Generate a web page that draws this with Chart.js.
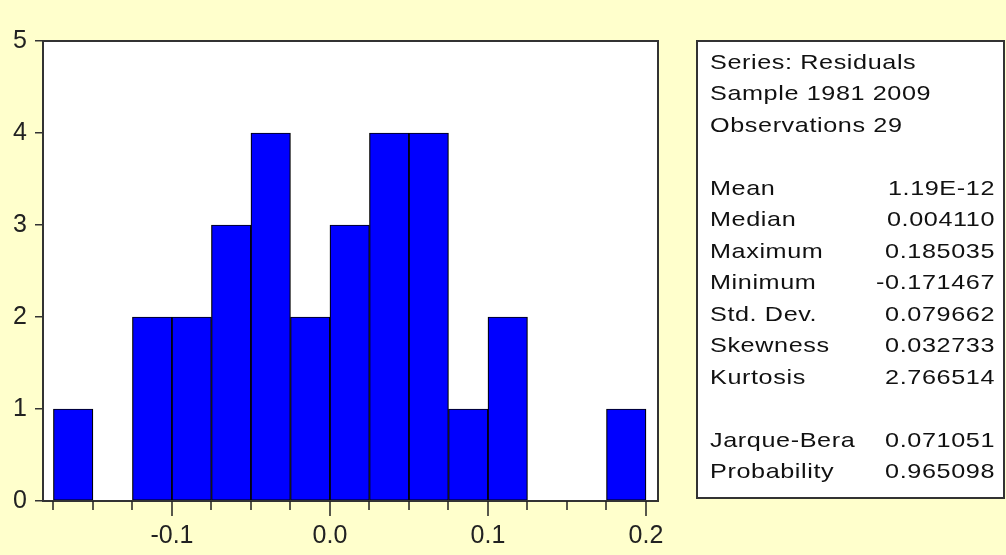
<!DOCTYPE html>
<html>
<head>
<meta charset="utf-8">
<script src="https://cdn.jsdelivr.net/npm/chart.js@4"></script>
<style>
html, body { margin: 0; padding: 0; background: #FFFFCC; }
#wrap { width: 1006px; height: 555px; }
</style>
</head>
<body>
<div id="wrap"><canvas id="histChart"></canvas></div>
<script>
// histogram of residuals, bins of 0.025
var binCenters = [-0.1625, -0.1375, -0.1125, -0.0875, -0.0625, -0.0375, -0.0125, 0.0125, 0.0375, 0.0625, 0.0875, 0.1125, 0.1375, 0.1625, 0.1875];
var binCounts = [1, 0, 2, 2, 3, 4, 2, 3, 4, 4, 1, 2, 0, 0, 1];

var xTickMarks = [-0.175, -0.15, -0.125, -0.1, -0.075, -0.05, -0.025, 0.0, 0.025, 0.05, 0.075, 0.1, 0.125, 0.15, 0.175, 0.2];
var xLabelTicks = [-0.1, 0.0, 0.1, 0.2];
var yTicks = [0, 1, 2, 3, 4, 5];

var headerLines = ['Series: Residuals', 'Sample 1981 2009', 'Observations 29'];
var statNames = ['Mean', 'Median', 'Maximum', 'Minimum', 'Std. Dev.', 'Skewness', 'Kurtosis', '', 'Jarque-Bera', 'Probability'];
var statValues = ['1.19E-12', '0.004110', '0.185035', '-0.171467', '0.079662', '0.032733', '2.766514', '', '0.071051', '0.965098'];

var FONT = '"Liberation Sans", Arial, sans-serif';

// draw text stretched sideways like the old bitmap font
function wideText(ctx, t, x, y, align) {
    var sx = 1.2;
    ctx.save();
    ctx.translate(x, y);
    ctx.scale(sx, 1);
    ctx.textAlign = align;
    ctx.fillText(t, 0, 0);
    ctx.restore();
}

var frameAndTicks = {
    id: 'frameAndTicks',
    beforeDraw: function (chart) {
        var a = chart.chartArea, ctx = chart.ctx;
        ctx.save();
        ctx.fillStyle = '#FFFFFF';
        ctx.fillRect(a.left, a.top, a.right - a.left, a.bottom - a.top);
        ctx.restore();
    },
    afterDraw: function (chart) {
        var a = chart.chartArea, ctx = chart.ctx;
        var xs = chart.scales.x;
        ctx.save();
        // plot frame
        ctx.strokeStyle = '#333333';
        ctx.lineWidth = 2;
        ctx.strokeRect(a.left, a.top, a.right - a.left, a.bottom - a.top);
        // x tick marks, longer at labelled values
        ctx.lineWidth = 1.5;
        ctx.strokeStyle = '#222222';
        ctx.beginPath();
        xTickMarks.forEach(function (v) {
            var major = xLabelTicks.some(function (l) { return Math.abs(l - v) < 1e-9; });
            var px = Math.round(xs.getPixelForValue(v));
            ctx.moveTo(px, a.bottom);
            ctx.lineTo(px, a.bottom + (major ? 15 : 9));
        });
        ctx.stroke();

        // statistics box
        var bx = 697, by = 41, bw = 307, bh = 457;
        ctx.fillStyle = '#FFFFFF';
        ctx.fillRect(bx, by, bw, bh);
        ctx.strokeStyle = '#333333';
        ctx.lineWidth = 2;
        ctx.strokeRect(bx, by, bw, bh);

        ctx.fillStyle = '#111111';
        ctx.font = '21px ' + FONT;
        ctx.letterSpacing = '0.5px';
        ctx.textBaseline = 'middle';
        var rowH = 31.5, y0 = 63;
        headerLines.forEach(function (t, i) {
            wideText(ctx, t, 710, y0 + i * rowH, 'left');
        });
        statNames.forEach(function (t, i) {
            var y = y0 + (i + 4) * rowH;
            wideText(ctx, t, 710, y, 'left');
            wideText(ctx, statValues[i], 995, y, 'right');
        });
        ctx.restore();
    }
};

var ctx = document.getElementById('histChart');
var histChart = new Chart(ctx, {
    type: 'bar',
    data: {
        datasets: [{
            data: binCenters.map(function (c, i) { return { x: c, y: binCounts[i] }; }),
            backgroundColor: '#0000FF',
            borderColor: '#000000',
            borderWidth: 1.2,
            borderSkipped: false,
            barPercentage: 1,
            categoryPercentage: 1
        }]
    },
    options: {
        responsive: true,
        maintainAspectRatio: false,
        animation: false,
        layout: { padding: { left: 0, top: 41, right: 348, bottom: 0 } },
        plugins: {
            legend: { display: false },
            tooltip: { enabled: false }
        },
        scales: {
            x: {
                type: 'linear',
                offset: false,
                min: -0.1816,
                max: 0.2076,
                border: { display: false },
                grid: { display: false, drawTicks: false, offset: false },
                afterBuildTicks: function (scale) {
                    scale.ticks = xLabelTicks.map(function (v) { return { value: v }; });
                },
                afterFit: function (scale) { scale.height = 54; },
                ticks: {
                    padding: 20,
                    maxRotation: 0,
                    color: '#222222',
                    font: { family: FONT, size: 25 },
                    callback: function (v) { return Number(v).toFixed(1); }
                }
            },
            y: {
                min: 0,
                max: 5,
                border: { display: false },
                grid: { drawOnChartArea: false, drawTicks: true, tickLength: 8, color: '#333333', lineWidth: 1.5 },
                afterBuildTicks: function (scale) {
                    scale.ticks = yTicks.map(function (v) { return { value: v }; });
                },
                afterFit: function (scale) { scale.width = 43; },
                ticks: {
                    padding: 8,
                    color: '#222222',
                    font: { family: FONT, size: 25 }
                }
            }
        }
    },
    plugins: [frameAndTicks]
});
</script>
</body>
</html>
